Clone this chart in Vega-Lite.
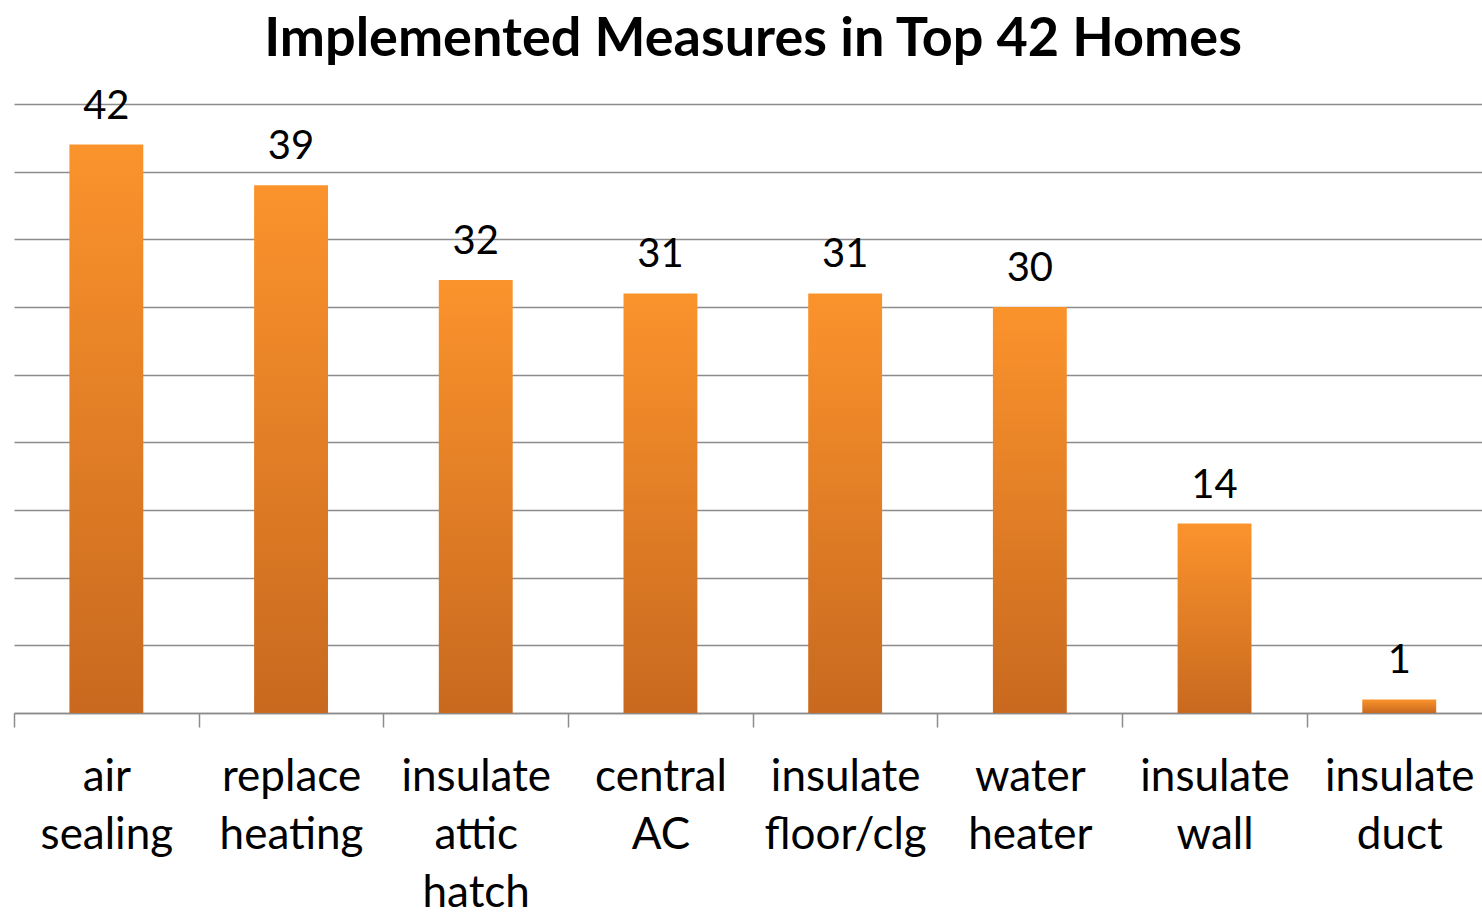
{
  "$schema": "https://vega.github.io/schema/vega-lite/v6.json",
  "autosize": "none",
  "width": 1468,
  "height": 609,
  "padding": {"left": 14, "top": 104, "right": 0, "bottom": 201},
  "background": "white",
  "title": {
    "text": "Implemented Measures in Top 42 Homes",
    "font": "Lato",
    "fontSize": 54,
    "fontWeight": "bold",
    "color": "black",
    "anchor": "middle",
    "frame": "group",
    "baseline": "alphabetic",
    "offset": 26,
    "dx": 5,
    "dy": 49
  },
  "data": {
    "values": [
      {"measure": "air sealing", "count": 42},
      {"measure": "replace heating", "count": 39},
      {"measure": "insulate attic hatch", "count": 32},
      {"measure": "central AC", "count": 31},
      {"measure": "insulate floor/clg", "count": 31},
      {"measure": "water heater", "count": 30},
      {"measure": "insulate wall", "count": 14},
      {"measure": "insulate duct", "count": 1}
    ]
  },
  "config": {"view": {"stroke": null}},
  "encoding": {
    "x": {
      "field": "measure",
      "type": "nominal",
      "sort": null,
      "scale": {"paddingInner": 0.6, "paddingOuter": 0.3, "range": [0, 1477.6]},
      "axis": {
        "title": null,
        "labelAngle": 0,
        "bandPosition": 0.5,
        "tickOffset": -92.35,
        "labelOffset": 92.35,
        "labelExpr": "split(datum.value, ' ')",
        "labelFont": "Lato",
        "labelFontSize": 44,
        "labelColor": "black",
        "labelLineHeight": 58,
        "labelPadding": 28,
        "labelBaseline": "top",
        "labelLimit": 0,
        "labelOverlap": false,
        "tickSize": 14,
        "tickColor": "#8c8c8c",
        "tickWidth": 1.5,
        "domainColor": "#8c8c8c",
        "domainWidth": 1.5,
        "grid": false
      }
    },
    "y": {
      "field": "count",
      "type": "quantitative",
      "scale": {"domain": [0, 45], "nice": false},
      "axis": {
        "title": null,
        "labels": false,
        "ticks": false,
        "domain": false,
        "values": [0, 5, 10, 15, 20, 25, 30, 35, 40, 45],
        "grid": true,
        "gridColor": "#8c8c8c",
        "gridWidth": 1.5
      }
    }
  },
  "layer": [
    {
      "mark": {
        "type": "bar",
        "color": {
          "gradient": "linear",
          "x1": 0, "y1": 0, "x2": 0, "y2": 1,
          "stops": [
            {"offset": 0, "color": "#FB932C"},
            {"offset": 1, "color": "#C8691F"}
          ]
        }
      }
    },
    {
      "mark": {
        "type": "text",
        "font": "Lato",
        "fontSize": 40,
        "color": "black",
        "baseline": "alphabetic",
        "dy": -26
      },
      "encoding": {"text": {"field": "count", "type": "quantitative"}}
    }
  ]
}
